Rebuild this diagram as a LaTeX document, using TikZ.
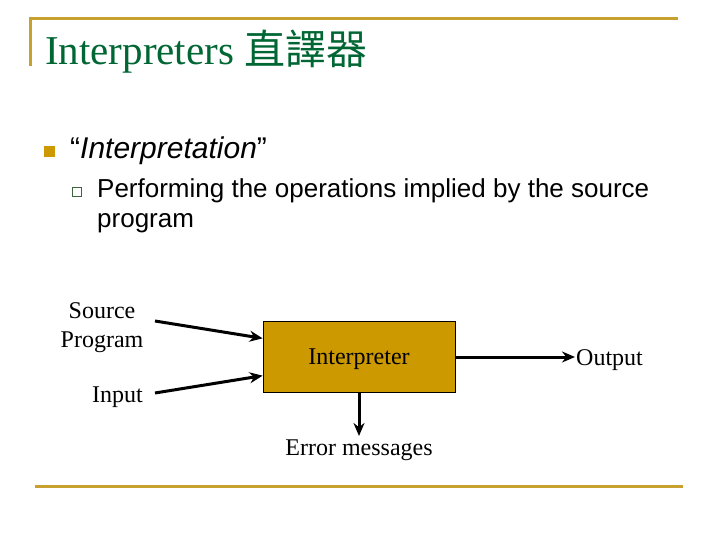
\documentclass[tikz,border=0pt]{standalone}
\usepackage{fontspec}
\setmainfont{Liberation Serif}
\setsansfont{Liberation Sans}
\newfontfamily\cjk{Noto Sans CJK TC}
\usetikzlibrary{arrows.meta,positioning,calc}
\definecolor{titlegreen}{RGB}{0,102,51}
\definecolor{rulegold}{RGB}{200,160,45}
\definecolor{boxgold}{RGB}{204,153,0}
\definecolor{subgreen}{RGB}{60,100,60}
\begin{document}
\begin{tikzpicture}[
    x=1pt, y=-1pt,
    lbl/.style={inner sep=0pt, font=\fontsize{24}{29}\selectfont, align=center},
    bullettext/.style={inner sep=0pt, anchor=base west, font=\sffamily},
    unitbox/.style={draw, line width=0.8pt, fill=boxgold, minimum width=192pt, minimum height=71pt, text depth=0pt, font=\fontsize{24}{29}\selectfont},
    flow/.style={-{Stealth[length=13pt, width=11pt]}, line width=3pt}
]
\useasboundingbox (0,0) rectangle (720,540);
\draw[rulegold, line width=3pt] (30,66) -- (30,18.5) -- (678,18.5);
\draw[rulegold, line width=3pt] (35,486) -- (683,486);
\node[inner sep=0pt, anchor=base west, text=titlegreen, font=\fontsize{41}{48}\selectfont] (title) at (45,65) {Interpreters {\cjk 直譯器}};

% bullets
\fill[boxgold] (44,146) rectangle (55,157);
\draw[subgreen, line width=1pt] (72.5,187.5) rectangle (81.5,196.5);
\node[bullettext, font=\sffamily\fontsize{30}{36}\selectfont] (lvl1) at (70,159) {“\textit{Interpretation}”};
\node[bullettext, font=\sffamily\fontsize{26}{30}\selectfont] (lvl2a) at (97,197) {Performing the operations implied by the source};
\node[bullettext, font=\sffamily\fontsize{26}{30}\selectfont] (lvl2b) at (97,227) {program};

% diagram
\node[unitbox] (interp) at (359,357) {Interpreter};
\node[lbl] (src) at (102,328) {Source\\Program};
\node[lbl, anchor=east] (inp) at (143,397) {Input};
\node[lbl, anchor=west, inner sep=1pt] (out) at (575,360) {Output};
\node[lbl, anchor=north] (err) at (359,440) {Error messages};
\coordinate (srcend) at (155,321);
\coordinate (inpend) at (155,393);

\draw[flow] (srcend) -- ($(interp.north west)!0.24!(interp.south west)$);
\draw[flow] (inpend) -- ($(interp.north west)!0.76!(interp.south west)$);
\draw[flow] (interp.east) -- (interp.east -| out.west);
\draw[flow] (interp.south) -- ([yshift=4pt]err.north);
\end{tikzpicture}
\end{document}
